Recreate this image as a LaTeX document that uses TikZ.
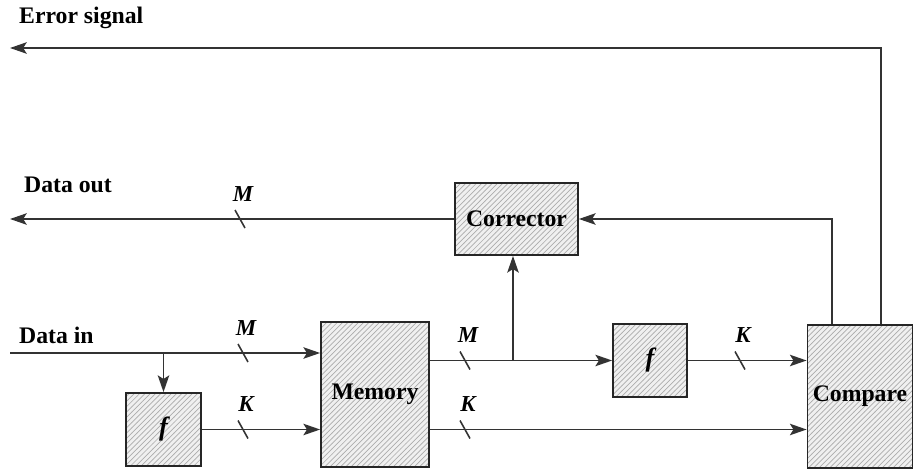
\documentclass[tikz,border=0pt]{standalone}
\usepackage{fontspec}
\setmainfont{Liberation Serif}
\usepackage{tikz}
\usetikzlibrary{
  arrows.meta,
  positioning,
  calc,
  patterns,
}

\begin{document}
\begin{tikzpicture}[
  x=0.02cm, y=-0.02cm,
  font=\fontsize{13.5}{16}\selectfont\bfseries,
  every node/.style={align=center},
  block/.style={draw=black!85, line width=1pt, inner sep=0pt,
                preaction={fill=gray!12},
                pattern=north east lines, pattern color=gray!65},
  arrow/.style={-{Stealth[length=9.5pt,width=6.5pt,inset=2pt]}, line width=1.1pt, draw=black!80},
  hlabel/.style={anchor=west},
  buslabel/.style={font=\fontsize{13}{15}\selectfont\bfseries\itshape},
]
\useasboundingbox (0,0) rectangle (914,470);

\node[hlabel] (errtxt) at (13,18)  {Error signal};
\node[hlabel] (outtxt) at (18,185) {Data out};
\node[hlabel] (intxt)  at (13,335) {Data in};

\node[block, minimum width=2.46cm, minimum height=1.44cm] (cor)  at (516.5,219)   {Corrector};
\node[block, minimum width=2.16cm, minimum height=2.9cm]  (mem)  at (375,394.5)   {Memory};
\node[block, minimum width=1.5cm,  minimum height=1.46cm] (fin)  at (163.5,429.5) {\fontsize{15}{17}\selectfont\itshape f};
\node[block, minimum width=1.48cm, minimum height=1.46cm] (fout) at (650,360.5)   {\fontsize{15}{17}\selectfont\itshape f};
\node[block, minimum width=2.1cm,  minimum height=2.86cm] (cmp)  at (860,396.5)   {Compare};

\coordinate (errend) at (10,48);
\coordinate (dout)   at (10,219);
\coordinate (din)    at (10,353);

% outputs
\draw[arrow] ([xshift=0.42cm]cmp.north) |- (errend);
\draw[arrow] ([xshift=-0.56cm]cmp.north) |- (cor.east);
\draw[arrow] (cor.west) -- (dout);

% inputs
\draw[arrow] (din) -- (din -| mem.west);
\draw[arrow] (din -| fin.north) -- (fin.north);
\draw[arrow] (fin.east) -- (fin.east -| mem.west);

% memory side
\draw[arrow] (mem.east |- fout.west) -- (fout.west);
\draw[arrow] ([xshift=-0.07cm]cor.south |- fout.west) -- ([xshift=-0.07cm]cor.south);
\draw[arrow] (fout.east) -- (fout.east -| cmp.west);
\draw[arrow] (mem.east |- fin.east) -- (fin.east -| cmp.west);

% bus widths
\foreach \x/\y/\w in {240/219/M, 243/353/M, 243/429.5/K, 465/360.5/M, 465/429.5/K, 740/360.5/K}{
  \draw[line width=0.9pt, black!80] (\x-5,\y-9) -- (\x+5,\y+9);
  \node[buslabel] at (\x+3,\y-25) {\w};
}

\end{tikzpicture}
\end{document}
